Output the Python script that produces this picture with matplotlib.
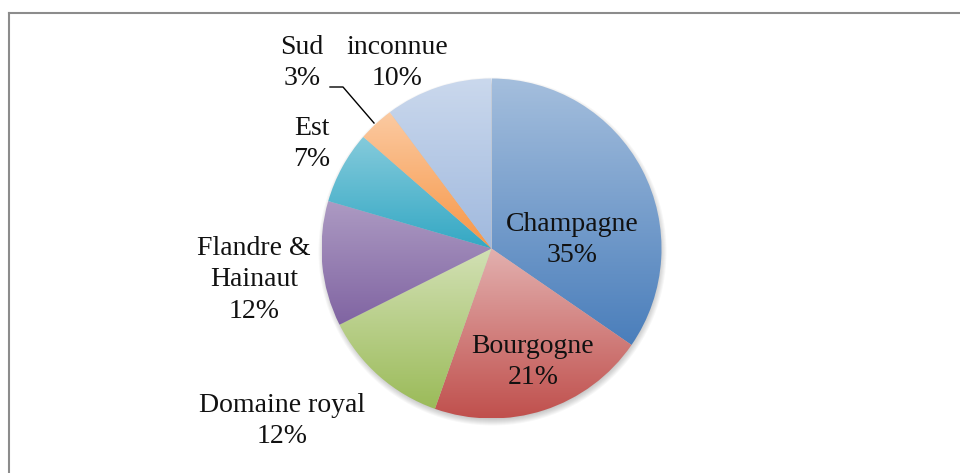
import numpy as np
import matplotlib
matplotlib.use("Agg")
import matplotlib.pyplot as plt
from matplotlib.colors import LinearSegmentedColormap, to_rgb
from matplotlib.patches import Circle
from matplotlib.lines import Line2D

# data
regions = ["Champagne", "Bourgogne", "Domaine royal", "Flandre &\nHainaut", "Est", "Sud", "inconnue"]
shares = [34.6, 20.8, 12.2, 11.9, 6.9, 3.4, 10.2]
pct_labels = ["35%", "21%", "12%", "12%", "7%", "3%", "10%"]

# styles
base_colors = ["#4a7ebb", "#c0504d", "#9bbb59", "#8064a2", "#34a8c4", "#f79646", "#a0b9de"]
tints = [0.5, 0.55, 0.55, 0.35, 0.4, 0.5, 0.45]

W, H = 960, 473
cx, cy, R = 491.5, H - 248.5, 170

# label centres in pixels from top-left
label_pos = [(572, 240), (533, 362), (282, 421), (254, 280), (312, 144), (302, 63), (397, 63)]

fig = plt.figure(figsize=(9.6, 4.73), dpi=100)
ax = fig.add_axes([0, 0, 1, 1])

# soft shadow under the pie
for i in range(8):
    ax.add_patch(Circle((cx + 1, cy - 3), R + 4 - i, color="#000000", alpha=0.03, lw=0, zorder=1))

wedges, _ = ax.pie(shares, startangle=90, counterclock=False, center=(cx, cy), radius=R,
                   wedgeprops=dict(linewidth=0), frame=True)
ax.set_xlim(0, W)
ax.set_ylim(0, H)
ax.set_aspect("equal")
ax.axis("off")

# vertical gradient inside each slice, light at top
grad = np.linspace(0, 1, 256).reshape(-1, 1)
for w, base, t in zip(wedges, base_colors, tints):
    b = np.array(to_rgb(base))
    light = b + (1 - b) * t
    cmap = LinearSegmentedColormap.from_list("g", [light, b])
    th = np.radians(np.linspace(w.theta1, w.theta2, 200))
    xs = np.concatenate([[cx], cx + R * np.cos(th)])
    ys = np.concatenate([[cy], cy + R * np.sin(th)])
    w.set_facecolor("none")
    im = ax.imshow(grad, cmap=cmap, extent=(xs.min(), xs.max(), ys.min(), ys.max()),
                   origin="upper", aspect="auto", zorder=2, interpolation="bilinear")
    im.set_clip_path(w)

font = dict(family=["Liberation Serif", "DejaVu Serif"], fontsize=20, color="#111111")
for name, pct, (x, y) in zip(regions, pct_labels, label_pos):
    ax.text(x, H - y, name + "\n" + pct, ha="center", va="center", linespacing=1.33, zorder=5, **font)

# leader line for Sud
ax.plot([330, 343, 374], [H - 87, H - 87, H - 123], color="black", lw=1, zorder=5)

# chart area border
fig.add_artist(Line2D([9 / W, 1], [1 - 13 / H, 1 - 13 / H], color="#8c8c8c", lw=1.5))
fig.add_artist(Line2D([9 / W, 9 / W], [0, 1 - 13 / H], color="#8c8c8c", lw=1.5))

fig.savefig("out.png", dpi=100)
